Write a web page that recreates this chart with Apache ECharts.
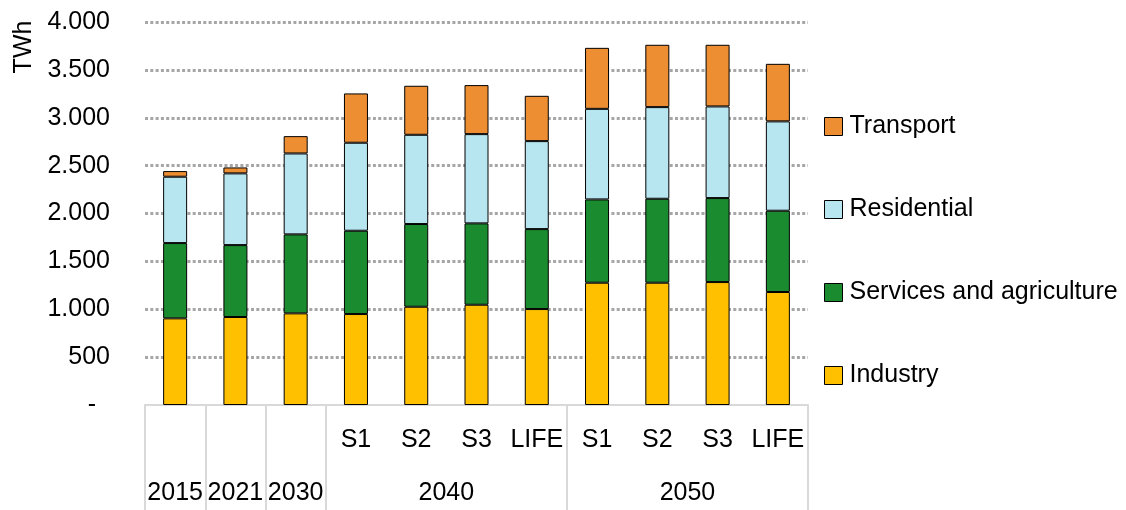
<!DOCTYPE html>
<html>
<head>
<meta charset="utf-8">
<script src="https://cdn.jsdelivr.net/npm/echarts@6/dist/echarts.min.js"></script>
<style>
  html, body { margin: 0; padding: 0; background: #fff; }
  #chart { width: 1126px; height: 510px; }
</style>
</head>
<body>
<div id="chart"></div>
<script>
// Final electricity demand by sector, TWh
const periods   = ['2015', '2021', '2030', '2040', '2040', '2040', '2040', '2050', '2050', '2050', '2050'];
const scenarios = ['', '', '', 'S1', 'S2', 'S3', 'LIFE', 'S1', 'S2', 'S3', 'LIFE'];

const industry    = [905, 919, 957, 950, 1026, 1047, 1002, 1277, 1277, 1284, 1180];
const services    = [786, 751, 825, 870, 864, 850, 835, 870, 877, 877, 849];
const residential = [693, 749, 845, 919, 932, 932, 919, 946, 957, 957, 933];
const transport   = [59, 62, 181, 515, 512, 512, 473, 637, 651, 644, 601];

const yTicks = [0, 500, 1000, 1500, 2000, 2500, 3000, 3500, 4000];

const FONT = '"Liberation Sans", Arial, sans-serif';
const TXT = '#000';

// unique category keys, displayed as the scenario part only
const categories = periods.map((p, i) => p + '|' + scenarios[i]);

// group runs of equal periods for the second label row
const groups = [];
periods.forEach((p, i) => {
  const last = groups[groups.length - 1];
  if (last && last.name === p) last.end = i + 1;
  else groups.push({ name: p, start: i, end: i + 1 });
});
const groupBounds = [0].concat(groups.map(g => g.end));
const groupCenters = groups.map(g => (g.start + g.end) / 2);
const groupNameAt = {};
groups.forEach(g => { groupNameAt[(g.start + g.end) / 2] = g.name; });

function fmtThousands(v) {
  if (v === 0) return '-  ';
  return String(v).replace(/\B(?=(\d{3})+(?!\d))/g, '.');
}

const sectorSeries = [
  { name: 'Industry', data: industry, color: '#FFC000' },
  { name: 'Services and agriculture', data: services, color: '#1A8C2F' },
  { name: 'Residential', data: residential, color: '#B8E6F0' },
  { name: 'Transport', data: transport, color: '#ED8E33' }
];

const chart = echarts.init(document.getElementById('chart'), null, { renderer: 'canvas' });

chart.setOption({
  animation: false,
  backgroundColor: '#fff',
  textStyle: { fontFamily: FONT },
  grid: { left: 145, right: 318, top: 22, bottom: 105, containLabel: false },
  legend: {
    orient: 'vertical',
    left: 824,
    top: 114,
    padding: 0,
    itemWidth: 18,
    itemHeight: 18,
    itemGap: 58,
    icon: 'rect',
    data: ['Transport', 'Residential', 'Services and agriculture', 'Industry'],
    itemStyle: { borderColor: '#000', borderWidth: 1 },
    textStyle: { fontFamily: FONT, fontSize: 25, color: TXT, padding: [0, 0, 0, 2] }
  },
  graphic: [{
    type: 'text',
    x: 24,
    y: 47,
    rotation: Math.PI / 2,
    style: { text: 'TWh', font: '25px ' + FONT, fill: TXT, align: 'center', verticalAlign: 'middle' }
  }],
  xAxis: [
    {
      type: 'category',
      data: categories,
      position: 'bottom',
      axisLine: { show: false },
      axisTick: { show: false },
      axisLabel: {
        interval: 0,
        margin: 23,
        fontFamily: FONT,
        fontSize: 25,
        color: TXT,
        formatter: v => v.split('|')[1]
      },
      splitLine: { show: false }
    },
    {
      type: 'value',
      min: 0,
      max: periods.length,
      position: 'bottom',
      axisLine: { show: true, lineStyle: { color: '#d9d9d9', width: 2 } },
      axisTick: { show: true, customValues: groupBounds, length: 106, lineStyle: { color: '#d9d9d9', width: 2 } },
      axisLabel: {
        customValues: groupCenters,
        margin: 76,
        fontFamily: FONT,
        fontSize: 25,
        color: TXT,
        formatter: v => groupNameAt[v] || ''
      },
      splitLine: { show: false }
    }
  ],
  yAxis: {
    type: 'value',
    min: 0,
    max: 4000,
    interval: 500,
    axisLine: { show: false },
    axisTick: { show: false },
    axisLabel: {
      margin: 35,
      fontFamily: FONT,
      fontSize: 25,
      color: TXT,
      formatter: fmtThousands
    },
    splitLine: {
      show: true,
      lineStyle: {
        color: yTicks.map((t, i) => (i === 0 ? 'rgba(0,0,0,0)' : '#a6a6a6')),
        width: 3,
        type: [3, 2.3]
      }
    }
  },
  series: sectorSeries.map(s => ({
    name: s.name,
    type: 'bar',
    stack: 'demand',
    xAxisIndex: 0,
    barWidth: 24,
    data: s.data,
    itemStyle: { color: s.color, borderColor: '#000', borderWidth: 1 }
  }))
});
</script>
</body>
</html>
